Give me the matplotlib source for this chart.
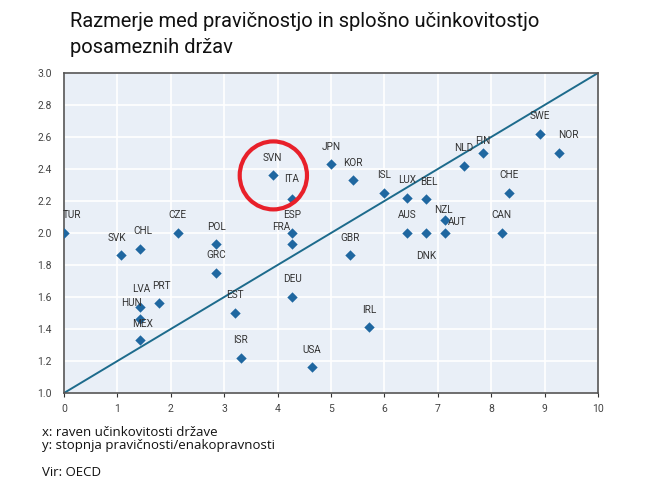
import matplotlib
matplotlib.use('Agg')
import matplotlib.pyplot as plt
from matplotlib.patches import Ellipse

# podatki (x: raven ucinkovitosti, y: stopnja pravicnosti)
countries = ['TUR', 'SVK', 'CHL', 'CZE', 'POL', 'GRC', 'LVA', 'PRT', 'HUN', 'MEX',
             'EST', 'ISR', 'SVN', 'ITA', 'ESP', 'FRA', 'DEU', 'USA', 'JPN', 'KOR',
             'GBR', 'ISL', 'LUX', 'BEL', 'AUS', 'DNK', 'NZL', 'AUT', 'IRL', 'NLD',
             'FIN', 'CHE', 'CAN', 'SWE', 'NOR']
x_vals = [0.0, 1.07, 1.42, 2.13, 2.85, 2.85, 1.42, 1.78, 1.42, 1.42,
          3.20, 3.31, 3.91, 4.27, 4.27, 4.27, 4.27, 4.64, 5.00, 5.41,
          5.36, 6.00, 6.42, 6.78, 6.42, 6.78, 7.13, 7.13, 5.71, 7.49,
          7.85, 8.33, 8.20, 8.91, 9.27]
y_vals = [2.00, 1.86, 1.90, 2.00, 1.93, 1.75, 1.54, 1.56, 1.46, 1.33,
          1.50, 1.22, 2.36, 2.21, 2.00, 1.93, 1.60, 1.16, 2.43, 2.33,
          1.86, 2.25, 2.22, 2.21, 2.00, 2.00, 2.08, 2.00, 1.41, 2.42,
          2.50, 2.25, 2.00, 2.62, 2.50]
diag_x = [0, 10]
diag_y = [1.0, 3.0]
x_ticks = list(range(0, 11))
y_ticks = [1.0, 1.2, 1.4, 1.6, 1.8, 2.0, 2.2, 2.4, 2.6, 2.8, 3.0]

title = 'Razmerje med pravičnostjo in splošno učinkovitostjo\nposameznih držav'
note = 'x: raven učinkovitosti države\ny: stopnja pravičnosti/enakopravnosti'
source = 'Vir: OECD'

# odmiki oznak v tockah (privzeto nad tocko)
offsets = {'TUR': (6, 9), 'SVK': (-3, 9), 'CHL': (2, 9), 'HUN': (-6, 8),
           'MEX': (2, 8), 'LVA': (1, 9), 'PRT': (2, 9), 'FRA': (-8, 9), 'AUT': (9, 4),
           'DNK': (0, -13), 'NZL': (-1, 4), 'ITA': (0, 11), 'FIN': (0, 5),
           'NLD': (0, 9), 'NOR': (7, 9), 'LUX': (0, 9), 'BEL': (2, 9)}

plt.rcParams['font.family'] = ['Roboto', 'DejaVu Sans']
fig = plt.figure(figsize=(6.5, 5), dpi=100)
ax = fig.add_axes([0.0985, 0.214, 0.8215, 0.64])
ax.set_facecolor('#e9eff7')

ax.plot(diag_x, diag_y, color='#1d6b8c', lw=1.4, zorder=2)
ax.scatter(x_vals, y_vals, marker='D', s=28, color='#1f67a0', zorder=3, linewidths=0)

for c, xv, yv in zip(countries, x_vals, y_vals):
    dx, dy = offsets.get(c, (0, 9))
    ax.annotate(c, (xv, yv), xytext=(dx, dy), textcoords='offset points',
                ha='center', va='bottom' if dy > 0 else 'top', fontsize=7.2,
                color='#333333', zorder=4)

# rdeci krog okoli Slovenije
ax.add_patch(Ellipse((3.92, 2.36), 1.26, 0.425, fill=False, ec='#e8202a', lw=3, zorder=5))

ax.set_xlim(0, 10)
ax.set_ylim(1.0, 3.0)
ax.set_xticks(x_ticks)
ax.set_yticks(y_ticks)
ax.set_xticklabels([str(t) for t in x_ticks])
ax.set_yticklabels(['%.1f' % t for t in y_ticks])
ax.grid(color='white', lw=1.2)
ax.set_axisbelow(True)
for s in ax.spines.values():
    s.set_color('#555555')
    s.set_linewidth(1.2)
ax.tick_params(axis='x', length=3, color='#333333', labelsize=7.5, labelcolor='#444444', pad=5)
ax.tick_params(axis='y', length=0, labelsize=7.5, labelcolor='#444444', pad=9)

fig.text(0.107, 0.976, title, fontsize=14.5, va='top', ha='left', color='#111111',
         linespacing=1.45)
fig.text(0.065, 0.148, note, fontsize=9.5, va='top', ha='left', color='#111111',
         family=['Open Sans', 'DejaVu Sans'], linespacing=1.0)
fig.text(0.065, 0.068, source, fontsize=9.5, va='top', ha='left', color='#111111',
         family=['Open Sans', 'DejaVu Sans'])

fig.savefig('out.png', dpi=100)
